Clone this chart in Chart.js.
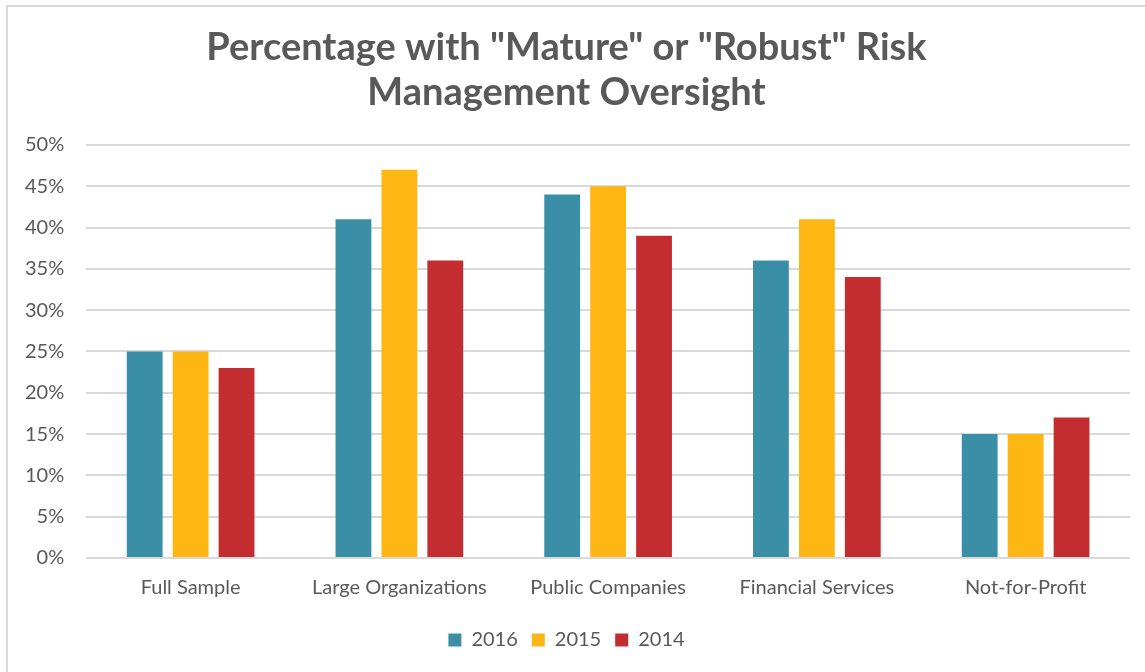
<!DOCTYPE html>
<html>
<head>
<meta charset="utf-8">
<script src="https://cdn.jsdelivr.net/npm/chart.js@4"></script>
<style>
  html, body { margin: 0; padding: 0; background: #fff; }
  #frame {
    position: absolute; left: 6px; top: 5px; width: 1139px; height: 667px;
    border-left: 2px solid #d9d9d9; border-top: 2px solid #d9d9d9;
    box-sizing: border-box;
  }
  #wrap { position: absolute; left: 0; top: 0; width: 1145px; height: 672px; }
</style>
</head>
<body>
<div id="frame"></div>
<div id="wrap"><canvas id="chart" width="1145" height="672"></canvas></div>
<script>
// ─── Data ────────────────────────────────────────────────────────────
const categories = ["Full Sample", "Large Organizations", "Public Companies", "Financial Services", "Not-for-Profit"];
const years = ["2016", "2015", "2014"];
const values2016 = [25, 41, 44, 36, 15];
const values2015 = [25, 47, 45, 41, 15];
const values2014 = [23, 36, 39, 34, 17];
const yTicks = [0, 5, 10, 15, 20, 25, 30, 35, 40, 45, 50];

const COLORS = ["#3A8FA7", "#FDB614", "#C42D2F"];
const TEXT = "#595959";
const FONT = "Lato, 'Open Sans', sans-serif";

new Chart(document.getElementById("chart"), {
  type: "bar",
  data: {
    labels: categories,
    datasets: [values2016, values2015, values2014].map((d, i) => ({
      label: years[i],
      data: d,
      backgroundColor: COLORS[i],
      borderWidth: 0,
      barPercentage: 0.78,
      categoryPercentage: 0.66,
    })),
  },
  options: {
    responsive: false,
    animation: false,
    layout: { padding: { left: 3, right: 15, top: 14, bottom: 12 } },
    plugins: {
      title: {
        display: true,
        text: ['Percentage with "Mature" or "Robust" Risk', "Management Oversight"],
        color: TEXT,
        font: { family: FONT, size: 38, weight: "bold", lineHeight: 1.17 },
        padding: { top: 12, bottom: 30 },
      },
      legend: {
        position: "bottom",
        labels: {
          color: TEXT,
          font: { family: FONT, size: 20 },
          boxWidth: 13,
          boxHeight: 13,
          padding: 14,
        },
      },
      tooltip: { enabled: false },
    },
    scales: {
      x: {
        grid: { display: false },
        border: { display: false },
        ticks: { color: TEXT, font: { family: FONT, size: 20 }, padding: 10 },
        afterFit: (axis) => { axis.height += 6; },
      },
      y: {
        min: 0,
        max: 50,
        afterBuildTicks: (axis) => { axis.ticks = yTicks.map((v) => ({ value: v })); },
        grid: { color: "#d9d9d9", lineWidth: 2, drawTicks: false },
        border: { display: false },
        ticks: {
          color: TEXT,
          font: { family: FONT, size: 20 },
          padding: 22,
          callback: (v) => v + "%",
        },
      },
    },
  },
  plugins: [{
    // the reference's grid stops short of the right edge
    id: "clipGrid",
    beforeDatasetsDraw(chart) {
      const { ctx, chartArea } = chart;
      ctx.save();
      ctx.fillStyle = "#fff";
      ctx.fillRect(chartArea.right, chartArea.top - 2, chart.width - chartArea.right, chartArea.bottom - chartArea.top + 4);
      ctx.restore();
    },
  }],
});
</script>
</body>
</html>
